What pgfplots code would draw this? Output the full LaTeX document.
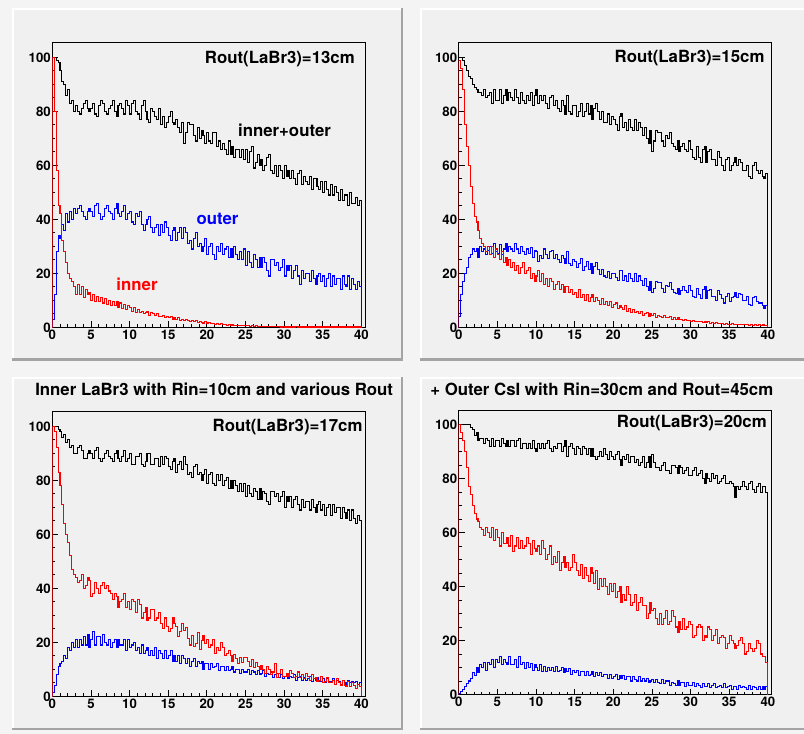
\documentclass[border=0pt]{standalone}
\usepackage{pgfplots}
\pgfplotsset{compat=1.18}
\usepackage{pgfplotstable}
\usepackage{fontspec}
\setmainfont{TeX Gyre Heros}
\definecolor{canvasbg}{HTML}{F4F4F4}
\definecolor{padgray}{HTML}{F0F0F0}
\definecolor{padshadow}{HTML}{A4A4A4}
\definecolor{rred}{HTML}{FF0000}
\definecolor{rblue}{HTML}{0000FF}

% ---- Rout = 13 cm ----
\pgfplotstableread[row sep=\\]{y\\0\\
100\\100\\99\\98\\ 95\\91\\90\\86\\ 88\\83\\84\\80\\ 82\\80\\79\\81\\ 83\\84\\81\\80\\
81\\83\\79\\78\\ 82\\84\\83\\80\\ 79\\81\\82\\84\\ 80\\78\\82\\83\\ 81\\79\\84\\82\\
79\\83\\84\\80\\ 79\\77\\82\\84\\ 80\\77\\76\\81\\ 80\\78\\77\\81\\ 75\\78\\74\\76\\
78\\80\\76\\75\\ 77\\74\\72\\76\\ 68\\72\\76\\75\\ 75\\71\\69\\74\\ 70\\73\\71\\68\\
72\\69\\68\\72\\ 72\\67\\69\\66\\ 68\\66\\64\\69\\ 64\\67\\63\\66\\ 66\\63\\66\\62\\
66\\61\\65\\67\\ 59\\61\\64\\60\\ 62\\58\\60\\63\\ 64\\58\\57\\60\\ 56\\60\\58\\55\\
60\\56\\58\\55\\ 58\\55\\53\\57\\ 58\\53\\56\\54\\ 53\\56\\51\\55\\ 55\\52\\51\\54\\
50\\54\\51\\49\\ 53\\49\\52\\50\\ 47\\51\\47\\49\\ 49\\45\\50\\46\\ 46\\48\\45\\47\\
0\\}\btl
\pgfplotstableread[row sep=\\]{y\\0\\
3\\12\\28\\34\\ 33\\38\\36\\42\\ 39\\43\\40\\44\\ 42\\44\\45\\43\\ 41\\40\\43\\44\\
43\\41\\45\\46\\ 42\\40\\41\\44\\ 45\\43\\42\\40\\ 44\\46\\42\\41\\ 43\\45\\40\\42\\
43\\39\\38\\42\\ 41\\43\\38\\36\\ 38\\40\\41\\37\\ 35\\37\\38\\34\\ 38\\35\\39\\37\\
34\\32\\36\\37\\ 32\\35\\37\\33\\ 37\\35\\31\\32\\ 29\\33\\35\\30\\ 31\\28\\30\\33\\
27\\30\\31\\27\\ 25\\30\\28\\31\\ 27\\29\\30\\26\\ 29\\26\\30\\27\\ 25\\28\\25\\29\\
23\\28\\24\\22\\ 27\\25\\22\\26\\ 22\\26\\24\\21\\ 19\\25\\25\\23\\ 24\\21\\22\\25\\
19\\23\\21\\23\\ 18\\21\\23\\19\\ 16\\21\\18\\20\\ 20\\17\\21\\18\\ 16\\19\\20\\17\\
19\\15\\18\\20\\ 15\\19\\16\\18\\ 18\\14\\19\\16\\ 15\\19\\14\\18\\ 16\\14\\17\\15\\
0\\}\otl
\pgfplotstableread[row sep=\\]{y\\0\\
100\\80\\58\\45\\ 42\\32\\28\\24\\ 20\\18\\17\\15\\ 12\\16\\12\\15\\ 11\\14\\12\\13\\
10\\12\\9.5\\11.5\\ 9.5\\11\\9\\10.5\\ 8.5\\10\\8\\9.5\\ 8\\9.5\\7.5\\9\\ 7\\8.5\\6.5\\8\\
7.5\\6\\7.5\\5.5\\ 6.5\\5.5\\6\\5\\ 5.5\\6\\4.5\\5.5\\ 5\\4.5\\5\\4\\ 4\\4.5\\3.5\\4\\
3.5\\4\\3\\3.5\\ 3\\3.5\\2.5\\3\\ 2.5\\3\\2.5\\2\\ 2.5\\2\\2.5\\1.8\\ 2\\1.8\\1.5\\2\\
1.6\\1.8\\1.3\\1.5\\ 1.2\\1.5\\1\\1.3\\ 1\\1.2\\0.8\\1\\ 0.8\\1\\0.7\\0.8\\ 0.6\\0.8\\0.5\\0.7\\
0.5\\0.6\\0.4\\0.5\\ 0.4\\0.5\\0.3\\0.4\\ 0.3\\0.4\\0.3\\0.3\\ 0.2\\0.3\\0.2\\0.2\\ 0.2\\0.2\\0.1\\0.2\\
0.1\\0.2\\0.1\\0.1\\ 0.1\\0.1\\0.2\\0.1\\ 0.1\\0.1\\0.1\\0.1\\ 0.1\\0.1\\0.1\\0.1\\ 0.1\\0.1\\0.1\\0.1\\
0.1\\0.1\\0.1\\0.1\\ 0.1\\0.1\\0.1\\0.1\\ 0.1\\0.1\\0.1\\0.1\\ 0.1\\0.1\\0.1\\0.1\\ 0.1\\0.1\\0.1\\0.1\\
0\\}\itl

% ---- Rout = 15 cm ----
\pgfplotstableread[row sep=\\]{y\\0\\
100\\100\\99\\97\\ 95\\93\\92\\90\\ 89\\88\\87\\87\\ 86\\88\\85\\86\\ 87\\83\\88\\84\\
84\\88\\83\\86\\ 88\\84\\87\\85\\ 84\\88\\85\\83\\ 87\\84\\83\\86\\ 84\\87\\82\\86\\
88\\83\\86\\84\\ 86\\83\\81\\85\\ 86\\82\\84\\81\\ 80\\84\\82\\79\\ 86\\80\\79\\82\\
82\\78\\80\\83\\ 78\\80\\83\\79\\ 82\\77\\81\\83\\ 80\\77\\80\\76\\ 76\\79\\75\\78\\
77\\75\\73\\78\\ 79\\74\\76\\73\\ 77\\74\\73\\77\\ 73\\76\\74\\71\\ 74\\70\\68\\73\\
65\\69\\73\\72\\ 72\\69\\67\\71\\ 70\\72\\68\\67\\ 66\\69\\65\\67\\ 68\\66\\65\\69\\
66\\63\\62\\67\\ 63\\61\\66\\67\\ 61\\65\\66\\62\\ 62\\60\\65\\63\\ 60\\58\\62\\63\\
58\\60\\61\\63\\ 60\\62\\61\\58\\ 58\\60\\56\\55\\ 60\\61\\58\\57\\ 58\\56\\55\\57\\
0\\}\btr
\pgfplotstableread[row sep=\\]{y\\0\\
4\\12\\17\\20\\ 22\\26\\27\\29\\ 28\\29\\26\\30\\ 28\\29\\27\\28.5\\ 30\\27.5\\31\\28\\
27.5\\30.5\\27\\29\\ 31\\28\\30\\29\\ 28\\31\\29\\27.5\\ 30\\28\\27\\29\\ 27.5\\29.5\\26\\28.5\\
28\\24.5\\26.5\\25.5\\ 29\\27\\25.5\\28\\ 28.5\\25.5\\27\\25\\ 24\\26.5\\25.5\\23.5\\ 28\\23.5\\23\\25\\
24.5\\22\\23.5\\25.5\\ 21\\22.5\\24.5\\21.5\\ 23.5\\20\\22.5\\24\\ 21.5\\19.5\\21.5\\19\\ 18.5\\20.5\\18\\20\\
20\\18.5\\17.5\\21\\ 21\\17.5\\19\\17\\ 20\\18\\17\\20\\ 17\\19\\17.5\\15.5\\ 18\\15\\13.5\\17\\
13\\14.5\\17\\16.5\\ 16.5\\14.5\\13\\15.5\\ 15\\16.5\\14\\13\\ 12.5\\14.5\\12\\13.5\\ 15\\13.5\\13\\15.5\\
13.5\\11.5\\11\\14.5\\ 12\\10.5\\14\\15\\ 10.5\\13.5\\14\\11.5\\ 11.5\\10\\13.5\\12\\ 10.5\\9\\11.5\\12.5\\
9.5\\11\\11.5\\13\\ 11\\12.5\\12\\10\\ 10\\11.5\\8.5\\8\\ 11\\11.5\\9.5\\9\\ 9\\8\\7\\8\\
0\\}\otr
\pgfplotstableread[row sep=\\]{y\\0\\
99\\96\\88\\75\\ 67\\60\\52\\46\\ 41\\39\\36\\33\\ 31\\30\\28\\30\\ 27\\30\\26\\29\\
27\\25\\28\\24\\ 26\\23\\25\\22\\ 24\\21\\23\\20\\ 22\\24\\20\\21\\ 22\\18\\20\\17\\
19\\21\\17\\20\\ 16\\18\\15\\18\\ 17\\14\\16\\17\\ 14\\16\\13\\15\\ 15\\13\\14\\12\\
13\\11\\14\\11\\ 12\\10\\12\\9.5\\ 11\\12\\9.5\\11\\ 10\\8.5\\10.5\\8.5\\ 9.5\\8\\9.5\\7.5\\
8.5\\9\\7\\8\\ 7.5\\6.5\\8\\6\\ 7\\5.5\\6.5\\5.5\\ 6\\5\\6\\4.5\\ 5\\5.5\\4\\5\\
4.5\\5\\3.5\\4.5\\ 4\\3.5\\4.5\\3.5\\ 3.5\\4\\3\\3.5\\ 3\\3.5\\2.8\\3\\ 2.6\\3\\2.4\\2.5\\
2.3\\2.6\\2\\2.2\\ 2\\2.3\\1.8\\2\\ 1.8\\2\\1.5\\1.8\\ 1.5\\1.7\\1.3\\1.5\\ 1.4\\1.2\\1.5\\1.1\\
1.2\\1.4\\1\\1.2\\ 1.1\\0.9\\1.2\\1\\ 0.9\\1.1\\0.8\\1\\ 0.8\\1\\0.7\\0.9\\ 0.7\\0.9\\0.6\\0.8\\
0\\}\itr

% ---- Rout = 17 cm ----
\pgfplotstableread[row sep=\\]{y\\0\\
100\\100\\100\\99\\ 98\\96\\97\\94\\ 95\\92\\93\\90\\ 90\\92\\93\\91\\ 88\\88\\90\\91\\
90\\88\\91\\92\\ 88\\87\\88\\90\\ 91\\89\\88\\87\\ 90\\91\\88\\87\\ 89\\91\\87\\88\\
90\\86\\86\\89\\ 89\\90\\86\\85\\ 87\\90\\90\\86\\ 86\\88\\88\\85\\ 89\\86\\89\\88\\
85\\84\\87\\88\\ 83\\86\\87\\84\\ 89\\86\\82\\83\\ 81\\85\\86\\82\\ 83\\80\\82\\84\\
79\\82\\83\\79\\ 78\\82\\80\\82\\ 78\\80\\81\\77\\ 80\\77\\80\\78\\ 76\\79\\76\\79\\
74\\78\\75\\74\\ 77\\76\\73\\77\\ 73\\76\\75\\72\\ 71\\76\\76\\74\\ 75\\72\\74\\76\\
70\\74\\72\\74\\ 70\\73\\74\\71\\ 69\\73\\70\\72\\ 72\\69\\73\\70\\ 68\\71\\72\\69\\
71\\67\\70\\71\\ 67\\71\\68\\70\\ 70\\66\\70\\68\\ 66\\69\\65\\69\\ 66\\64\\67\\65\\
0\\}\bbl
\pgfplotstableread[row sep=\\]{y\\0\\
1.5\\4\\8\\11\\ 12\\13\\15\\14\\ 18\\17\\20\\18\\ 21\\18\\21\\19\\ 22\\19\\23\\18\\
21\\24\\19\\22\\ 22\\19\\23\\20\\ 19\\21\\18\\20\\ 21\\18\\21\\19\\ 19\\21\\17\\21\\
18\\19\\20\\17\\ 18\\16\\19\\16\\ 17\\18\\15\\17\\ 15\\18\\14\\17\\ 16\\14\\17\\14\\
15\\17\\13\\15\\ 13\\15\\12\\15\\ 14\\12\\14\\11\\ 13\\14\\11\\13\\ 12\\13\\10\\12\\
12\\10\\12\\10.5\\ 11\\12\\9.5\\11\\ 11\\9.5\\11\\9.5\\ 10\\11\\9\\10\\ 10\\8.5\\10\\9\\
9\\10\\8\\9.5\\ 9\\8\\9.5\\8\\ 8.5\\9.5\\7.5\\8.5\\ 8\\9\\7\\8\\ 8.5\\7\\8\\6.5\\
7.5\\8.5\\6.5\\7.5\\ 7\\8\\6\\7\\ 7.5\\6\\7\\6\\ 6.5\\7.5\\5.5\\6.5\\ 6\\7\\5.5\\5.5\\
6.5\\5\\6.5\\5.5\\ 5.5\\6.5\\4.5\\6\\ 5.5\\4.5\\6\\5\\ 4.5\\6\\5\\5.5\\ 5\\5.5\\4.5\\5\\
0\\}\obl
\pgfplotstableread[row sep=\\]{y\\0\\
100\\98\\92\\83\\ 78\\71\\64\\60\\ 57\\52\\47\\45\\ 44\\42\\43\\45\\ 40\\41\\44\\43\\
37\\38\\42\\40\\ 38\\41\\42\\40\\ 41\\39\\38\\36\\ 38\\37\\33\\35\\ 36\\38\\33\\35\\
32\\36\\35\\31\\ 36\\34\\29\\31\\ 33\\28\\29\\32\\ 32\\28\\29\\31\\ 27\\25\\29\\26\\
24\\25\\29\\27\\ 26\\22\\24\\27\\ 24.5\\25.5\\21.5\\19\\ 22.5\\18.5\\19.5\\23.5\\ 17.5\\20.5\\22.5\\19.5\\
21\\18\\19\\21\\ 16\\18\\17\\20\\ 18\\15\\16\\17\\ 15\\13\\15.5\\14\\ 12\\14.5\\12.5\\14.5\\
14.5\\13\\11\\13.5\\ 10.5\\12.5\\11\\10\\ 11.5\\10\\8.5\\11\\ 10\\8\\9\\12\\ 7\\8.5\\10\\7.5\\
7.5\\8.5\\7.5\\9.5\\ 8.5\\7\\7.5\\9\\ 7\\8\\6.5\\8.5\\ 7.5\\6\\8\\6.5\\ 7\\5.5\\6\\7.5\\
5\\5.5\\7\\5\\ 5\\6\\4.5\\6.5\\ 5\\4\\6\\4\\ 3.5\\5.5\\3.5\\5\\ 4\\3\\4.5\\3.5\\
0\\}\ibl

% ---- Rout = 20 cm ----
\pgfplotstableread[row sep=\\]{y\\0\\
100\\100\\100\\100\\ 100\\100\\99\\98\\ 96\\97\\94\\95\\ 95\\93\\95\\94\\ 92\\95\\92\\94\\
94\\92\\95\\93\\ 92\\94\\92\\94\\ 94\\92\\94\\95\\ 91\\93\\93\\91\\ 93\\91\\94\\91\\
90\\93\\91\\93\\ 91\\93\\94\\91\\ 90\\92\\91\\93\\ 93\\90\\92\\94\\ 88\\92\\93\\91\\
89\\92\\91\\89\\ 92\\91\\89\\91\\ 88\\91\\88\\87\\ 88\\90\\88\\91\\ 89\\87\\90\\88\\
87\\89\\90\\87\\ 85\\88\\87\\89\\ 86\\88\\88\\86\\ 87\\85\\86\\88\\ 84\\86\\88\\84\\
89\\86\\84\\84\\ 83\\85\\86\\83\\ 83\\82\\85\\85\\ 84\\82\\85\\84\\ 82\\83\\84\\81\\
81\\83\\84\\81\\ 82\\83\\80\\78\\ 82\\80\\79\\82\\ 80\\81\\78\\79\\ 80\\81\\78\\78\\
79\\78\\77\\73\\ 77\\76\\77\\79\\ 77\\76\\78\\79\\ 76\\75\\77\\78\\ 75\\77\\77\\75\\
0\\}\bbr
\pgfplotstableread[row sep=\\]{y\\0\\
0.5\\1\\2\\3\\ 4\\5\\6\\8\\ 7\\10\\8\\11\\ 10\\12\\9\\12\\ 11\\13\\10\\13\\
12\\14\\11\\13\\ 12\\11\\14\\11\\ 11\\13\\10\\14\\ 11\\12\\9.5\\12\\ 10\\11.5\\9\\11\\
10\\9\\11\\8.5\\ 10.5\\8.5\\10\\9\\ 10\\8.5\\10.5\\8.5\\ 9\\10\\8\\9.5\\ 8.5\\9.5\\7.5\\9\\
8\\9\\7\\8.5\\ 8.5\\7\\8.5\\7\\ 7.5\\8.5\\6.5\\8\\ 7\\8\\6.5\\7.5\\ 7.5\\6\\7.5\\6\\
6.5\\7.5\\5.5\\7\\ 6\\7\\5.5\\6.5\\ 6.5\\5\\6.5\\5.5\\ 5\\6.5\\5\\6\\ 5\\6\\4.5\\5\\
5.5\\4.5\\5.5\\4.5\\ 4\\5.5\\4\\5\\ 5\\3.5\\4.5\\4\\ 3.5\\5\\3.5\\4.5\\ 4.5\\3\\4.5\\3.5\\
3.5\\4.5\\3\\4\\ 3.5\\2.5\\4\\3\\ 3\\4\\2.5\\3.5\\ 4\\2.5\\3\\3.5\\ 2.5\\4\\2.5\\3\\
3.5\\2\\3\\3\\ 2\\3.5\\2.5\\3\\ 2.5\\2\\3.5\\2\\ 3\\2.5\\2\\3\\ 2\\3\\2\\3\\
0\\}\obr
\pgfplotstableread[row sep=\\]{y\\0\\
100\\97\\94\\90\\ 84\\77\\74\\70\\ 67\\65\\64\\62\\ 61\\59\\62\\60\\ 58\\62\\57\\61\\
58\\55\\60\\56\\ 56\\58\\55\\59\\ 53\\55\\58\\54\\ 57\\54\\55\\58\\ 56\\52\\57\\54\\
53\\55\\52\\57\\ 54\\50\\52\\55\\ 48\\51\\49\\53\\ 46\\49\\51\\47\\ 49\\46\\47\\52\\
49\\46\\44\\48\\ 43\\47\\44\\42\\ 47\\45\\41\\46\\ 39\\43\\40\\43\\ 40\\37\\41\\38\\
41\\36\\38\\40\\ 34\\37\\35\\40\\ 37\\33\\34\\37\\ 31\\34\\36\\33\\ 33\\28\\30\\34\\
31\\32\\28\\26\\ 30\\26\\28\\31\\ 26\\27\\31\\29\\ 25\\23\\27\\24\\ 28\\24\\25\\27\\
26\\21\\22\\25\\ 26\\25\\20\\22\\ 21\\25\\24\\20\\ 22\\24\\19\\21\\ 22\\21\\17\\19\\
22\\20\\19\\17\\ 18\\20\\21\\19\\ 15\\16\\19\\17\\ 16\\17\\20\\19\\ 15\\14\\14\\12\\
0\\}\ibr

\pgfplotsset{rootax/.style={
  scale only axis, width=234.75pt, height=213.4pt,
  anchor=south west,
  xmin=0, xmax=40.5, ymin=0, ymax=105.4,
  axis background/.style={fill=padgray},
  axis line style={line width=0.7pt},
  xtick={0,5,...,40}, ytick={0,20,...,100},
  minor x tick num=4, minor y tick num=3,
  tick align=inside, xtick pos=left, ytick pos=left,
  major tick length=4.5pt, minor tick length=2.2pt,
  tick style={black, line width=0.6pt},
  tick label style={font=\fontsize{9.9}{10}\selectfont\bfseries},
  /pgf/number format/assume math mode=true,
  yticklabel style={inner sep=1pt},
  xticklabel style={inner sep=2pt},
  every axis plot/.append style={const plot mark left, no marks, line width=0.8pt},
}}
\newcommand{\hist}[2]{\addplot[#1] table[x expr=\coordindex*0.25-0.25, y=y] {#2};}
\newcommand{\pad}[4]{%
  \fill[padgray] (#1,#2) rectangle (#3,#4);
  \fill[white] (#1,#2) rectangle (#3,#2+2);
  \fill[white] (#1,#2) rectangle (#1+2,#4);
  \fill[padshadow] (#1,#4-2.5) rectangle (#3,#4);
  \fill[padshadow] (#3-2.5,#2) rectangle (#3,#4);}

\begin{document}
\begin{tikzpicture}
\begin{scope}[x=0.75pt,y=-0.75pt]
  \useasboundingbox (0,0) rectangle (804,734);
  \fill[canvasbg] (0,0) rectangle (804,734);
  \pad{12}{8}{403}{361}
  \pad{420}{8}{812}{361}
  \pad{12}{377}{403}{730}
  \pad{420}{377}{812}{730}
\end{scope}

\begin{axis}[rootax, at={(52.3*0.75pt,-327.3*0.75pt)}]
  \hist{black}{\btl}
  \hist{rblue}{\otl}
  \hist{rred}{\itl}
\end{axis}
\begin{axis}[rootax, at={(458.7*0.75pt,-327.3*0.75pt)}]
  \hist{black}{\btr}
  \hist{rblue}{\otr}
  \hist{rred}{\itr}
\end{axis}
\begin{axis}[rootax, at={(52.3*0.75pt,-696.3*0.75pt)}]
  \hist{black}{\bbl}
  \hist{rblue}{\obl}
  \hist{rred}{\ibl}
\end{axis}
\begin{axis}[rootax, at={(458.7*0.75pt,-694.5*0.75pt)}]
  \hist{black}{\bbr}
  \hist{rblue}{\obr}
  \hist{rred}{\ibr}
\end{axis}

\begin{scope}[x=0.75pt,y=-0.75pt,every node/.style={inner sep=0pt,font=\fontsize{12.6}{14}\selectfont\bfseries}]
  \node[anchor=base east] at (355,64) {Rout(LaBr3)=13cm};
  \node[anchor=base east] at (764.7,63) {Rout(LaBr3)=15cm};
  \node[anchor=base east] at (362.7,432) {Rout(LaBr3)=17cm};
  \node[anchor=base east] at (767,427.7) {Rout(LaBr3)=20cm};
  \node[anchor=base] at (284.5,137) {inner+outer};
  \node[anchor=base,text=rblue] at (217.5,225) {outer};
  \node[anchor=base,text=rred] at (137,290.7) {inner};
  \node[anchor=base west] at (35,395.3) {Inner LaBr3 with Rin=10cm and various Rout};
  \node[anchor=base west] at (430,395.3) {+ Outer CsI with Rin=30cm and Rout=45cm};
\end{scope}
\end{tikzpicture}
\end{document}
